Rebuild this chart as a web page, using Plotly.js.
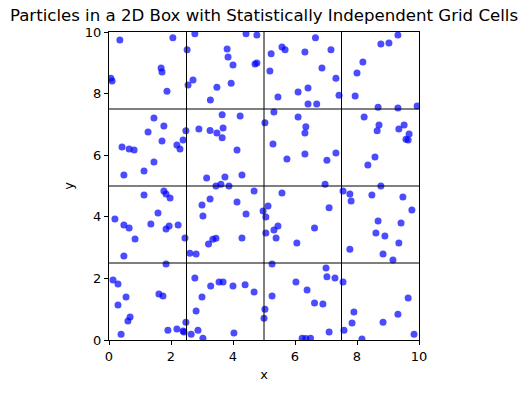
<!DOCTYPE html>
<html>
<head>
<meta charset="utf-8">
<script src="https://cdn.plot.ly/plotly-3.0.1.min.js"></script>
<style>html,body{margin:0;padding:0;background:#fff;}</style>
</head>
<body>
<div id="chart" style="width:528px;height:393px;"></div>
<script>
const xs = [
0.06,0.10,0.35,1.68,1.71,1.87,2.06,2.55,2.71,2.52,2.77,3.27,4.42,4.77,3.81,3.84,4.00,4.71,4.77,5.23,
5.58,5.68,6.32,6.66,5.19,3.48,3.94,5.45,6.10,6.42,6.42,6.70,7.16,6.87,7.32,7.42,9.32,8.77,9.03,8.19,
8.00,7.94,8.68,9.32,9.94,
1.45,1.77,1.26,2.48,2.90,3.26,3.65,4.23,3.48,3.65,3.68,5.32,5.03,6.10,6.35,6.32,8.23,8.71,8.65,9.52,
9.35,9.68,1.71,2.19,2.39,2.29,0.42,0.65,0.81,1.45,1.13,0.48,3.15,4.13,5.29,6.32,5.74,4.29,3.74,3.61,
3.45,3.87,9.58,9.65,7.32,7.03,8.58,8.35,6.97,8.77,
1.13,1.77,1.84,1.97,1.58,0.19,0.48,0.65,1.35,1.94,1.84,2.23,0.84,2.45,3.00,3.03,3.26,4.68,5.58,4.13,
4.42,5.13,4.97,5.06,5.45,5.32,5.06,5.39,4.29,6.63,3.35,3.45,7.55,7.77,7.81,8.48,9.48,9.77,7.10,8.68,
9.42,8.61,8.90,0.48,2.61,2.81,3.21,6.06,9.35,7.77,8.84,9.16,
1.84,5.26,0.13,0.29,0.55,0.29,1.61,1.74,2.77,3.28,3.00,2.81,0.68,0.61,0.39,1.90,2.19,2.39,2.42,2.48,
2.65,2.87,3.03,3.55,3.68,4.00,4.39,4.68,5.26,6.03,6.39,6.63,5.03,5.00,4.03,6.23,6.35,6.50,7.00,7.03,
7.29,7.55,6.90,9.65,7.90,9.32,7.84,8.84,7.10,7.58,8.16,9.84
];
const ys = [
8.50,8.41,9.74,8.83,8.70,8.08,9.81,8.28,8.44,9.42,9.94,7.79,9.94,9.90,9.45,9.19,8.93,8.96,8.99,9.29,
9.51,9.42,9.35,9.81,8.73,8.21,8.34,7.89,8.05,8.18,7.66,7.66,9.42,8.83,8.50,7.95,9.90,9.61,9.64,9.03,
8.67,7.92,7.56,7.53,7.60,
7.21,6.95,6.75,6.79,6.85,6.80,7.31,7.27,6.72,6.57,6.88,7.40,7.05,7.24,6.92,6.72,7.24,6.98,6.79,6.98,
6.85,6.69,6.46,6.33,6.49,6.20,6.27,6.20,6.17,5.78,5.49,5.36,5.26,6.17,6.36,6.04,5.88,5.36,5.29,5.06,
5.00,5.00,6.52,6.49,6.07,5.84,5.94,5.68,5.06,5.00,
4.71,4.84,4.74,4.61,4.12,3.93,3.73,3.64,3.77,3.70,3.60,3.73,3.28,3.31,4.38,4.03,4.58,4.84,4.77,4.48,
4.09,4.35,4.19,3.99,3.70,3.57,3.47,3.31,3.31,3.64,3.27,3.30,4.84,4.74,4.51,4.71,4.64,4.22,4.29,3.86,
3.80,3.47,3.38,2.73,2.82,2.79,3.12,3.15,3.15,2.95,2.79,2.60,
2.47,2.47,1.95,1.82,1.40,1.14,1.49,1.43,2.01,1.75,1.40,0.94,0.75,0.62,0.19,0.32,0.36,0.29,0.26,0.58,
0.19,0.32,0.06,1.88,1.88,1.75,1.79,1.56,1.43,1.88,1.62,1.20,1.00,0.71,0.23,0.06,0.05,0.06,2.34,2.05,
2.01,1.88,1.17,1.36,0.91,0.84,0.55,0.58,0.26,0.32,0.03,0.19
];
const cellBounds = [2.5, 5, 7.5];
const xTicks = [0, 2, 4, 6, 8, 10];
const yTicks = [0, 2, 4, 6, 8, 10];

const shapes = [];
cellBounds.forEach(v => {
  shapes.push({type:'line', xref:'x', yref:'y', x0:v, x1:v, y0:0, y1:10, line:{color:'black', width:1}});
  shapes.push({type:'line', xref:'x', yref:'y', x0:0, x1:10, y0:v, y1:v, line:{color:'black', width:1}});
});

const font = {family:'DejaVu Sans, sans-serif', color:'black'};
const trace = {
  x: xs, y: ys, type:'scatter', mode:'markers',
  marker:{size:7, color:'rgba(0,0,255,0.7)', line:{width:0}},
  hoverinfo:'x+y'
};
const axisCommon = {
  range:[0,10], showgrid:false, zeroline:false, showline:true, linecolor:'black', linewidth:1,
  mirror:true, ticks:'outside', ticklen:4, tickwidth:1, tickcolor:'black',
  tickfont:{family:font.family, size:13, color:'black'}, fixedrange:true
};
const layout = {
  width:528, height:393,
  margin:{l:109, r:109, t:32, b:53},
  paper_bgcolor:'white', plot_bgcolor:'white',
  font: font,
  showlegend:false,
  title:{text:'Particles in a 2D Box with Statistically Independent Grid Cells',
         font:{family:font.family, size:16.6, color:'black'},
         x:0.5, xref:'container', y:0.962, yref:'container', yanchor:'middle', xanchor:'center'},
  xaxis: Object.assign({}, axisCommon, {tickvals:xTicks, ticktext:xTicks.map(String),
         title:{text:'x', font:{family:font.family, size:13, color:'black'}, standoff:7}}),
  yaxis: Object.assign({}, axisCommon, {tickvals:yTicks, ticktext:yTicks.map(String),
         title:{text:'y', font:{family:font.family, size:13, color:'black'}, standoff:8}}),
  shapes: shapes
};
Plotly.newPlot('chart', [trace], layout, {displayModeBar:false, staticPlot:true});
</script>
</body>
</html>
